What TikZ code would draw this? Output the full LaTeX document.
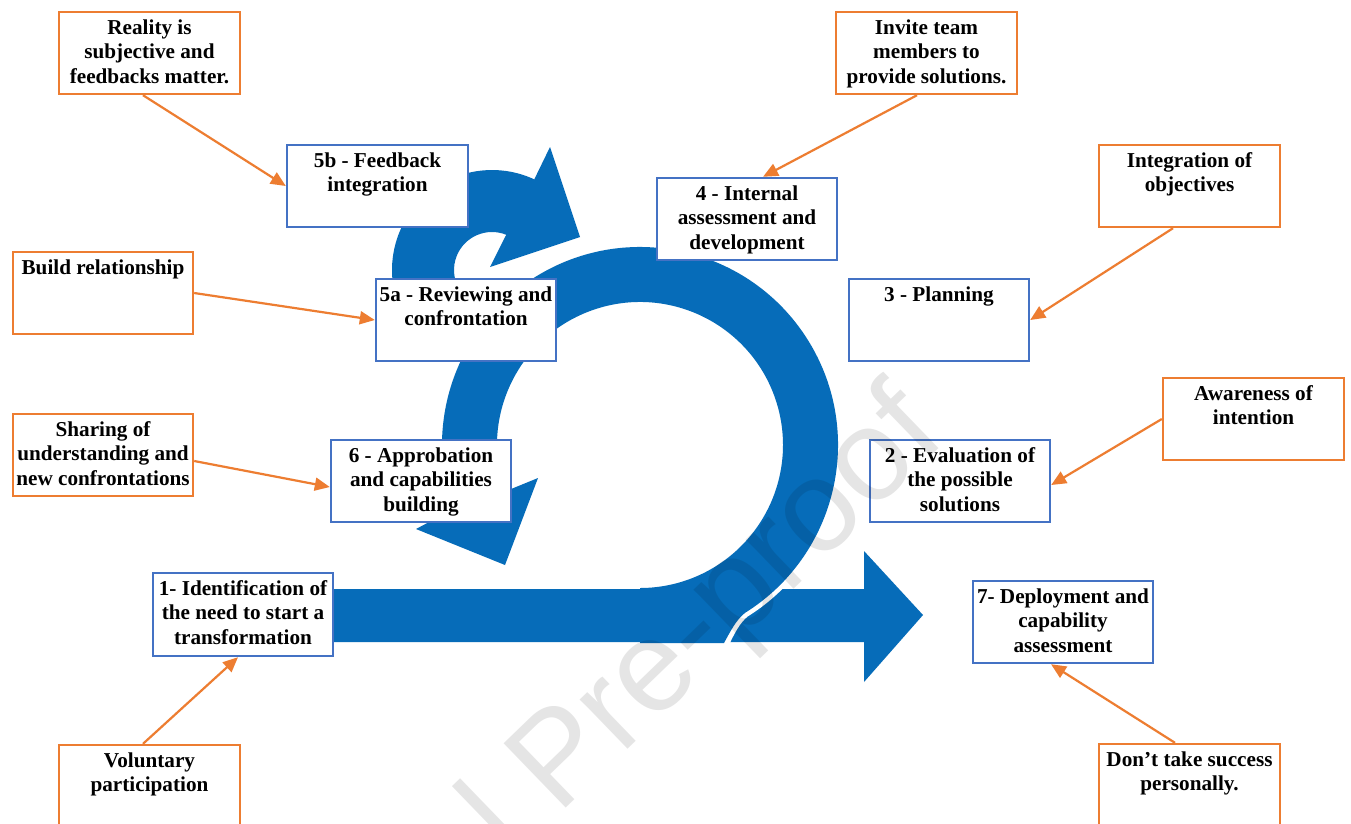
\documentclass[tikz,border=0pt]{standalone}
\usepackage{fontspec}
\setmainfont{Liberation Serif}
\newfontfamily\wmfont{Liberation Sans}
\usetikzlibrary{arrows.meta,calc}
\definecolor{arrowblue}{RGB}{6,108,185}
\definecolor{boxblue}{RGB}{68,114,196}
\definecolor{boxorange}{RGB}{237,125,49}
\newcommand\bxt[1]{\parbox[t]{230pt}{\centering\fontsize{21.2}{24.5}\selectfont\bfseries #1}}
\begin{document}
\hyphenpenalty=10000
\exhyphenpenalty=10000
\begin{tikzpicture}[x=1pt,y=-1pt,
  basebox/.style={fill=white, line width=2.4pt, minimum width=180pt, minimum height=82pt, inner sep=0pt},
  obox/.style={basebox, draw=boxorange},
  bbox/.style={basebox, draw=boxblue},
  txt/.style={anchor=base, inner sep=0pt},
  conn/.style={draw=boxorange, line width=2.2pt, -{Triangle[length=15pt,width=13pt]}},
  blueshape/.style={fill=arrowblue}
]
\useasboundingbox (0,0) rectangle (1351,823);
\clip (0,0) rectangle (1351,823);
\fill[white] (0,0) rectangle (1351,823);

% straight arrow
\fill[blueshape] (300,589) -- (864,589) -- (864,551) -- (923,615) -- (864,682) -- (864,642) -- (300,642) -- cycle;
% big loop
\coordinate (C) at (640,445);
\draw[white, line width=9pt] (724,645) .. controls (730,632) and (736,620) .. ($(C)+(58:198)$)
  arc[start angle=58, end angle=20, radius=198];
\fill[blueshape] (640,643) -- (724,643) .. controls (730,632) and (736,620) .. ($(C)+(58:198)$)
  arc[start angle=58, end angle=-199, radius=198]
  -- (416,529) -- (505,565) -- (538,478)
  -- ($(C)+(-199:143)$) arc[start angle=-199, end angle=90, radius=143] -- cycle;
% small loop
\coordinate (S) at (492,270);
\fill[blueshape] ($(S)+(150:100)$) arc[start angle=150, end angle=295, radius=100]
  -- (550,147) -- (580,237) -- (490,267)
  -- ($(S)+(292:38)$) arc[start angle=292, end angle=150, radius=38] -- cycle;

% orange boxes
\node[obox, minimum width=181pt] (o1) at (149.5,53) {};
\node[txt] (o1t) at (149.5,34) {\bxt{Reality is\\subjective and\\feedbacks matter.}};
\node[obox, minimum width=181pt] (o2) at (926.5,53) {};
\node[txt] (o2t) at (926.5,34) {\bxt{Invite team\\members to\\provide solutions.}};
\node[obox, minimum width=181pt] (o3) at (1189.5,186) {};
\node[txt] (o3t) at (1189.5,167) {\bxt{Integration of\\objectives}};
\node[obox] (o4) at (103,293) {};
\node[txt] (o4t) at (103,274) {\bxt{Build relationship}};
\node[obox] (o5) at (103,455) {};
\node[txt] (o5t) at (103,436) {\bxt{Sharing of\\understanding and\\new confrontations}};
\node[obox, minimum width=181pt] (o6) at (1253.5,419) {};
\node[txt] (o6t) at (1253.5,400) {\bxt{Awareness of\\intention}};
\node[obox, minimum width=181pt] (o7) at (149.5,786) {};
\node[txt] (o7t) at (149.5,767) {\bxt{Voluntary\\participation}};
\node[obox, minimum width=181pt] (o8) at (1189.5,785) {};
\node[txt] (o8t) at (1189.5,766) {\bxt{Don’t take success\\personally.}};

% blue boxes
\node[bbox, minimum width=181pt] (b5b) at (377.5,186) {};
\node[txt] (b5bt) at (377.5,167) {\bxt{5b - Feedback\\integration}};
\node[bbox] (b4) at (747,219) {};
\node[txt] (b4t) at (747,200) {\bxt{4 - Internal\\assessment and\\development}};
\node[bbox] (b3) at (939,320) {};
\node[txt] (b3t) at (939,301) {\bxt{3 - Planning}};
\node[bbox] (b5a) at (466,320) {};
\node[txt] (b5at) at (466,301) {\bxt{5a - Reviewing and\\confrontation}};
\node[bbox] (b6) at (421,481) {};
\node[txt] (b6t) at (421,462) {\bxt{6 - Approbation\\and capabilities\\building}};
\node[bbox] (b2) at (960,481) {};
\node[txt] (b2t) at (960,462) {\bxt{2 - Evaluation of\\the possible\\solutions}};
\node[bbox, minimum height=83pt] (b1) at (243,614.5) {};
\node[txt] (b1t) at (243,595) {\bxt{1- Identification of\\the need to start a\\transformation}};
\node[bbox] (b7) at (1063,622) {};
\node[txt] (b7t) at (1063,603) {\bxt{7- Deployment and\\capability\\assessment}};

% connectors
\draw[conn] ([xshift=-6.5pt]o1.south) -- (b5b.west);
\draw[conn] ([xshift=-9.5pt]o2.south) -- ([xshift=16pt]b4.north);
\draw[conn] ([xshift=-16.5pt]o3.south) -- (b3.east);
\draw[conn] (o4.east) -- (b5a.west);
\draw[conn] ([yshift=-6pt]o5.east) -- ([yshift=-6pt]b6.west);
\draw[conn] (o6.west) -- ([yshift=-4pt]b2.east);
\draw[conn] ([xshift=-6.5pt]o7.north) -- ([xshift=-5pt]b1.south);
\draw[conn] ([xshift=-14.5pt]o8.north) -- ([xshift=-12pt]b7.south);

% watermark
\node[rotate=44, text=black, opacity=0.1, inner sep=0pt,
  font=\wmfont\fontsize{130}{130}\selectfont] (wm) at (564,764) {Journal Pre-proof};
\end{tikzpicture}
\end{document}
